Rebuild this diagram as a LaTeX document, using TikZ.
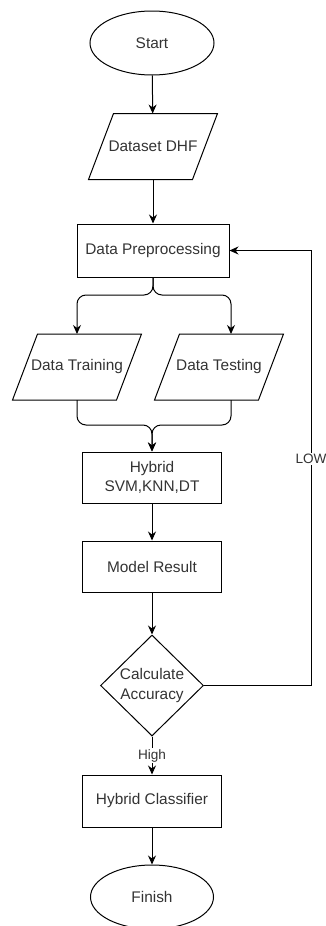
\documentclass[tikz,border=0pt]{standalone}
\usepackage{fontspec}
\setmainfont{Liberation Sans}
\usetikzlibrary{shapes.geometric,arrows.meta}

\tikzset{
  base/.style={draw, line width=1pt, text=black!80, font=\fontsize{15.4}{19.5}\selectfont, align=center, inner sep=0pt},
  term/.style={base, ellipse, minimum width=124pt, minimum height=64pt},
  io/.style={base, draw=none, rectangle, minimum width=103pt, minimum height=65pt},
  process/.style={base, rectangle, minimum width=139pt, minimum height=51pt},
  decision/.style={base, diamond, minimum width=103pt, minimum height=101pt},
  flow/.style={line width=1pt, -{Stealth[length=9pt,width=8pt]}},
  edgetext/.style={fill=white, text=black!80, font=\fontsize{13.6}{16}\selectfont, inner sep=1pt}
}

\begin{document}
\begin{tikzpicture}[x=1pt, y=-1pt]
 \useasboundingbox (0,0) rectangle (325,926);

 %%%%%%%%%% Blocs %%%%%%%%%%
 \node[term] (start) at (152,43) {Start};
 \node[io] (dhf) at (153,146.5) {Dataset DHF};
 \node[process, minimum width=152pt, minimum height=53pt] (prep) at (153,250.5) {Data Preprocessing};
 \node[io] (train) at (77,367) {Data Training};
 \node[io] (test) at (219,367) {Data Testing};
 \node[process] (hybrid) at (152,477.5) {Hybrid\\SVM,KNN,DT};
 \node[process] (model) at (152,566.5) {Model Result};
 \node[decision] (acc) at (152,685.5) {Calculate\\Accuracy};
 \node[process, minimum height=52pt] (clf) at (152,801) {Hybrid Classifier};
 \node[term, minimum width=123pt] (finish) at (152,897) {Finish};

 % Parallelogrammes
 \foreach \n in {dhf,train,test}
 {
   \draw[line width=1pt] ([xshift=12.5pt]\n.north west) -- ([xshift=12.5pt]\n.north east)
     -- ([xshift=-12.5pt]\n.south east) -- ([xshift=-12.5pt]\n.south west) -- cycle;
 }

 %%%%%%%%%% Points de passage %%%%%%%%%%
 \coordinate (split) at (153,295);
 \coordinate (join) at (152,425);
 \coordinate (back) at (311,685.5);

 % Chaine principale
 \draw[flow] (start) -- (dhf);
 \draw[flow] (dhf) -- (prep);
 \draw[flow, rounded corners=9pt] (prep.south) -- (split) -| (train.north);
 \draw[flow, rounded corners=9pt] (prep.south) -- (split) -| ([xshift=12pt]test.north);
 \draw[flow, rounded corners=9pt] (train.south) |- (join) -- (hybrid.north);
 \draw[flow, rounded corners=9pt] ([xshift=12pt]test.south) |- (join) -- (hybrid.north);
 \draw[flow] (hybrid) -- (model);
 \draw[flow] (model) -- (acc);
 \draw[flow] (acc) -- (clf) node[edgetext, midway] {High};
 \draw[flow] (clf) -- (finish);

 % Retour
 \draw[flow] (acc.east) -- (back) |- (prep.east) node[edgetext, pos=0.26] {LOW};

\end{tikzpicture}
\end{document}
